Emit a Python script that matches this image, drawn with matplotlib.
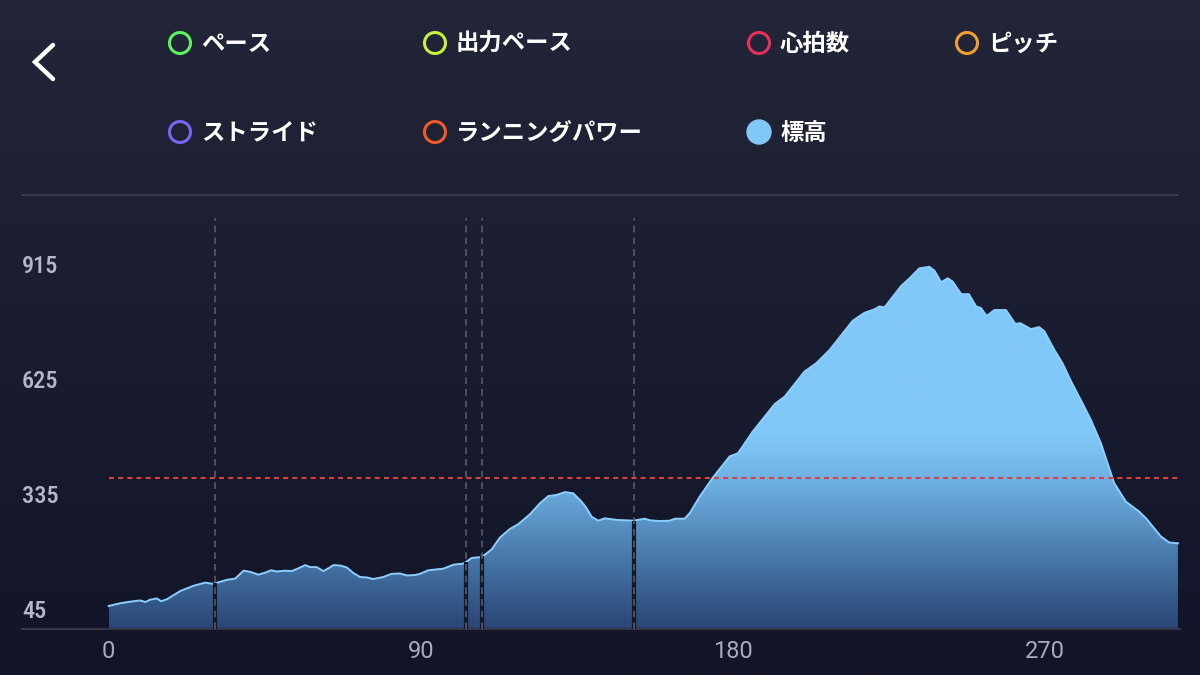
import numpy as np
import matplotlib
matplotlib.use("Agg")
import matplotlib.pyplot as plt
from matplotlib.colors import LinearSegmentedColormap
from matplotlib.patches import Circle

## Data

# distance along the run and elevation
DIST = [0, 3.4, 6.3, 9.1, 10.6, 12.0, 13.9, 15.1, 16.8, 20.7,
        24.5, 27.9, 29.8, 30.7, 34.1, 36.5, 38.9, 40.8, 43.2, 45.1,
        46.8, 48.5, 50.9, 52.8, 54.7, 56.7, 58.1, 60.0, 61.9, 63.4,
        64.8, 66.8, 68.7, 70.6, 72.5, 74.4, 76.3, 79.2, 81.6, 84.0,
        86.0, 88.4, 89.8, 92.2, 96.5, 99.4, 102.3, 103.1, 104.7, 107.1,
        108.5, 110.5, 112.8, 115.7, 118.1, 121.5, 124.4, 126.8, 129.2, 131.6,
        134.0, 136.4, 137.8, 139.3, 141.2, 143.1, 146.5, 151.3, 154.6, 156.1,
        158.9, 161.8, 163.3, 166.1, 167.6, 170.5, 174.3, 179.1, 181.5, 185.8,
        192.1, 195.0, 200.7, 204.1, 207.9, 214.6, 218.0, 220.9, 222.3, 223.8,
        228.6, 231.0, 233.8, 236.7, 238.2, 240.1, 242.0, 243.4, 245.9, 248.1,
        250.2, 251.6, 253.2, 255.5, 258.8, 261.5, 262.9, 266.0, 268.4, 269.9,
        272.8, 275.1, 277.6, 280.4, 283.3, 286.2, 288.1, 290.0, 293.4, 297.2,
        299.2, 303.5, 305.9, 308.4]
ELEV = [53, 60, 64, 67, 63, 69, 72, 65, 70, 91,
        104, 112, 109, 110, 119, 122, 142, 139, 132, 137,
        143, 140, 142, 141, 148, 156, 151, 151, 141, 148,
        156, 155, 150, 136, 126, 125, 121, 126, 134, 135,
        130, 131, 134, 143, 147, 157, 160, 164, 174, 176,
        182, 196, 225, 247, 259, 284, 312, 330, 333, 340,
        337, 316, 300, 278, 268, 274, 270, 268, 273, 269,
        267, 268, 273, 273, 287, 329, 377, 430, 438, 493,
        562, 581, 644, 665, 698, 772, 792, 801, 808, 806,
        860, 879, 904, 908, 898, 869, 879, 871, 839, 839,
        808, 804, 784, 799, 799, 764, 766, 751, 756, 745,
        698, 665, 619, 572, 522, 463, 413, 363, 316, 291,
        274, 228, 213, 211]

LAPS = [30.7, 103.0, 107.7, 151.5]  # lap markers
AVG_ELEV = 376

X_TICKS = [0, 90, 180, 270]
Y_TICKS = [45, 335, 625, 915]

LEGEND_LABELS = ["ペース", "出力ペース", "心拍数", "ピッチ",
                 "ストライド", "ランニングパワー", "標高"]
LEGEND_COLORS = ["#5ef25e", "#c8f03c", "#e8305a", "#f0a030",
                 "#7a62f0", "#f05a28", "#80c8f8"]
LEGEND_FILLED = [False, False, False, False, False, False, True]

## Style

W, H = 1200, 675
XLIM = (-25, 309)
YLIM = (-5, 1031)
JP_FONT = ["Noto Sans CJK JP", "DejaVu Sans"]
NARROW_FONT = ["Liberation Sans Narrow", "Roboto Condensed", "Roboto", "DejaVu Sans"]
FILL_STOPS = [(-5, "#2a4575"), (169, "#4677a8"), (321, "#66a4d6"),
              (447, "#7bc2f3"), (497, "#80c8f8"), (1031, "#80c8f8")]

fig = plt.figure(figsize=(W / 100, H / 100), dpi=100)

# Background gradient
bg = fig.add_axes([0, 0, 1, 1], zorder=-10)
bg_cmap = LinearSegmentedColormap.from_list("bg", ["#121527", "#1a1d2f", "#232638"])
bg.imshow(np.linspace(0, 1, 256).reshape(-1, 1), aspect="auto", cmap=bg_cmap,
          origin="lower", extent=[0, 1, 0, 1])
bg.axis("off")

## Elevation chart
ax = fig.add_axes([22 / W, 46 / H, 1158 / W, 411 / H])
ax.patch.set_alpha(0)

span = YLIM[1] - YLIM[0]
fill_cmap = LinearSegmentedColormap.from_list(
    "elev", [((v - YLIM[0]) / span, c) for v, c in FILL_STOPS])
poly = ax.fill_between(DIST, ELEV, YLIM[0], color="none", lw=0)
grad = ax.imshow(np.linspace(0, 1, 512).reshape(-1, 1), cmap=fill_cmap, origin="lower",
                 aspect="auto", extent=[DIST[0], DIST[-1], YLIM[0], YLIM[1]], zorder=2)
grad.set_clip_path(poly.get_paths()[0], transform=ax.transData)
ax.plot(DIST, ELEV, color="#8ccfff", lw=1.4, zorder=3)

# Lap markers
lap_elev = np.interp(LAPS, DIST, ELEV)
ax.vlines(LAPS, YLIM[0], lap_elev, color="#151927", lw=3, zorder=4)
for lap in LAPS:
    ax.axvline(lap, color="#555a6c", lw=1.2, ls=(0, (4, 3)), zorder=5)

# Average line
ax.hlines(AVG_ELEV, DIST[0], DIST[-1], color="#d9413f", lw=1.5, ls=(0, (2.4, 2.0)), zorder=6)

ax.set_xlim(XLIM)
ax.set_ylim(YLIM)
ax.set_xticks(X_TICKS)
ax.set_xticklabels([str(t) for t in X_TICKS], fontsize=17, color="#a8acb8", family="Roboto")
ax.set_yticks(Y_TICKS)
ax.set_yticklabels([str(t) for t in Y_TICKS], fontsize=17.5, color="#b4b8c4",
                   family=NARROW_FONT, fontweight="medium", ha="left")
ax.tick_params(axis="x", length=0, pad=8)
ax.tick_params(axis="y", length=0, pad=0)
for side in ["top", "left", "right"]:
    ax.spines[side].set_visible(False)
ax.spines["bottom"].set_color("#34374a")
ax.spines["bottom"].set_linewidth(1.5)

## Header: back arrow, legend, separator
ui = fig.add_axes([0, 0, 1, 1], zorder=5)
ui.set_xlim(0, W)
ui.set_ylim(H, 0)
ui.axis("off")
ui.patch.set_alpha(0)

ui.plot([53, 35, 53], [45, 62, 79], color="white", lw=3.2, solid_capstyle="round",
        solid_joinstyle="miter")

legend_pos = [(180, 43), (435, 43), (759, 43), (967, 43),
              (180, 132), (435, 132), (759, 132)]
for (cx, cy), label, color, filled in zip(legend_pos, LEGEND_LABELS, LEGEND_COLORS, LEGEND_FILLED):
    if filled:
        ui.add_patch(Circle((cx, cy), 12, color=color))
    else:
        ui.add_patch(Circle((cx, cy), 10.5, fill=False, ec=color, lw=2.2))
    ui.text(cx + 21, cy + 1, label, color="white", fontsize=16.8, fontweight="bold",
            va="center", ha="left", family=JP_FONT)

ui.plot([22, 1178], [194.5, 194.5], color="#383b4e", lw=1.4)

fig.savefig("out.png", dpi=100)
